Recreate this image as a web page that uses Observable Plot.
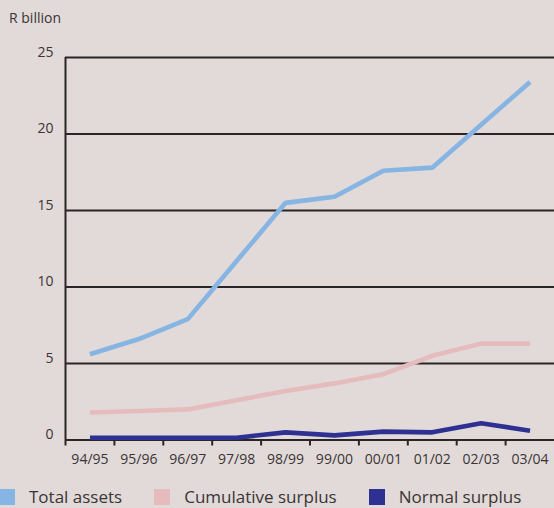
<!DOCTYPE html>
<html>
<head>
<meta charset="utf-8">
<script src="https://cdn.jsdelivr.net/npm/d3@7"></script>
<script src="https://cdn.jsdelivr.net/npm/@observablehq/plot@0.6"></script>
<style>
  html, body { margin: 0; padding: 0; background: #e1dad8; }
  #wrap { position: relative; width: 554px; height: 508px; overflow: hidden; font-family: "Open Sans", sans-serif; color: #3a3536; }
  #unit { position: absolute; left: 9px; top: 8px; font-size: 14px; line-height: 20px; }
  #chart { position: absolute; left: 0; top: 0; }
  #legend { position: absolute; left: -1px; top: 486px; display: flex; align-items: center; font-size: 17px; line-height: 22px; }
  #legend .item { display: flex; align-items: center; margin-right: 32px; }
  #legend .sw { width: 16px; height: 16px; margin-right: 14px; }
</style>
</head>
<body>
<div id="wrap">
  <div id="chart"></div>
  <div id="unit">R billion</div>
  <div id="legend"></div>
</div>
<script>
// Financial years on the horizontal axis
const years = ["94/95", "95/96", "96/97", "97/98", "98/99", "99/00", "00/01", "01/02", "02/03", "03/04"];

// Series values, R billion
const totalAssets = [5.6, 6.6, 7.9, 11.7, 15.5, 15.9, 17.6, 17.8, 20.6, 23.4];
const cumulativeSurplus = [1.8, 1.9, 2.0, 2.6, 3.2, 3.7, 4.3, 5.5, 6.3, 6.3];
const normalSurplus = [0.15, 0.15, 0.15, 0.15, 0.5, 0.3, 0.55, 0.5, 1.1, 0.6];

// Vertical axis ticks
const yTicks = [0, 5, 10, 15, 20, 25];

// Series names and colours
const seriesNames = ["Total assets", "Cumulative surplus", "Normal surplus"];
const seriesColors = ["#86b4e3", "#e6bbbd", "#2e3192"];

const seriesValues = [totalAssets, cumulativeSurplus, normalSurplus];
const rows = seriesNames.flatMap((name, s) =>
  years.map((year, i) => ({series: name, year, value: seriesValues[s][i]}))
);

const width = 554;
const marginLeft = 65;
const marginRight = 0;
const step = (width - marginLeft - marginRight) / years.length;
const ink = "#2a2526";
const textColor = "#3a3536";

const chart = Plot.plot({
  width,
  height: 480,
  marginLeft,
  marginRight,
  marginTop: 57,
  marginBottom: 40.5,
  style: {background: "transparent", fontFamily: "Open Sans, sans-serif", fontSize: "14px", color: textColor, overflow: "visible"},
  x: {type: "band", domain: years, padding: 0, align: 0.5, round: false},
  y: {domain: [0, 25]},
  color: {domain: seriesNames, range: seriesColors},
  marks: [
    // horizontal grid lines, 0 doubles as the baseline
    Plot.ruleY(yTicks, {stroke: ink, strokeWidth: 2}),
    // left axis line
    Plot.ruleX([years[0]], {dx: -step / 2, y1: 0, y2: 25, stroke: ink, strokeWidth: 2}),
    // tick marks on the band boundaries
    Plot.axisX({tickSize: 6, tickFormat: () => "", dx: -step / 2, stroke: ink, strokeWidth: 2, strokeOpacity: 1, label: null}),
    // year labels centred under each data point
    Plot.axisX({tickSize: 0, tickPadding: 14, fontSize: 14, fill: textColor, label: null}),
    Plot.axisY({ticks: yTicks, tickSize: 0, tickPadding: 12, dy: -5, fontSize: 14, fill: textColor, label: null}),
    Plot.line(rows, {x: "year", y: "value", z: "series", stroke: "series", strokeWidth: 4.6, strokeLinecap: "butt", strokeLinejoin: "miter"})
  ]
});
document.getElementById("chart").appendChild(chart);

// Legend
const legend = document.getElementById("legend");
seriesNames.forEach((name, i) => {
  const item = document.createElement("div");
  item.className = "item";
  const sw = document.createElement("div");
  sw.className = "sw";
  sw.style.background = seriesColors[i];
  const label = document.createElement("span");
  label.textContent = name;
  item.append(sw, label);
  legend.appendChild(item);
});
</script>
</body>
</html>
